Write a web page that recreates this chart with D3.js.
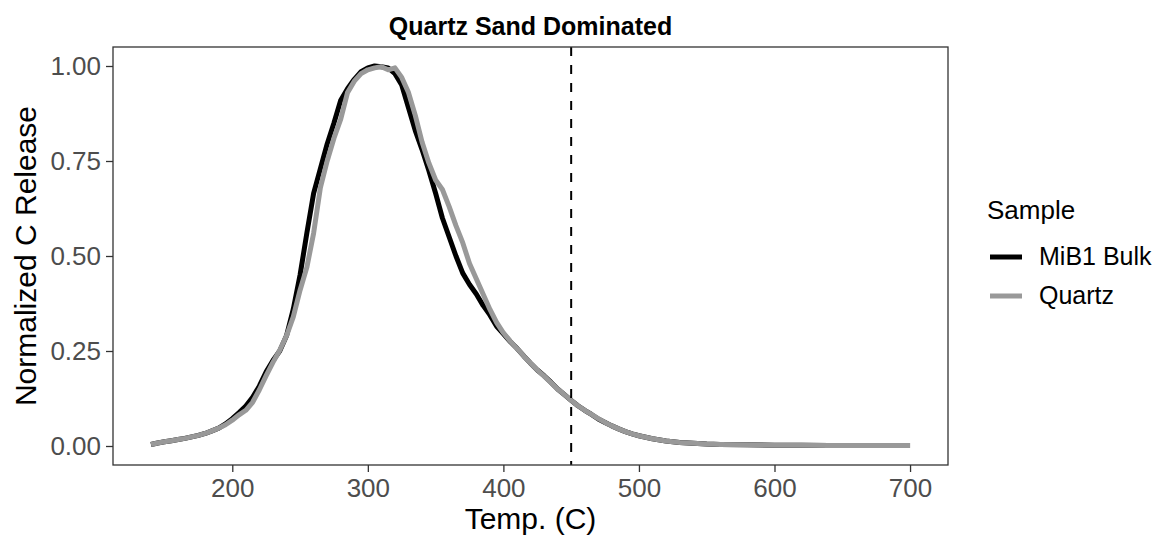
<!DOCTYPE html>
<html><head><meta charset="utf-8">
<script src="https://cdn.jsdelivr.net/npm/d3@7"></script>
<style>body{margin:0;background:#fff;}svg{display:block;font-family:"Liberation Sans",Arial,Helvetica,sans-serif;}</style>
</head><body><svg id="c" width="1159" height="538"></svg>
<script>
const chartTitle = "Quartz Sand Dominated";
const xTitle = "Temp. (C)";
const yTitle = "Normalized C Release";
const legendTitle = "Sample";
const seriesNames = ["MiB1 Bulk", "Quartz"];
const xTicks = [200, 300, 400, 500, 600, 700];
const yTicks = [0, 0.25, 0.5, 0.75, 1];
const cutoffTemp = 450;

const temps = [140,145,150,155,160,165,170,175,180,185,190,195,200,205,210,215,220,225,230,235,240,245,250,255,260,265,270,275,280,285,290,295,300,305,310,315,320,325,330,335,340,345,350,355,360,365,370,375,380,385,390,395,400,405,410,415,420,425,430,435,440,445,450,455,460,465,470,475,480,485,490,495,500,510,520,530,540,550,560,580,600,620,640,660,680,700];

const bulk = [0.004,0.008,0.011,0.014,0.017,0.020,0.024,0.028,0.033,0.040,0.047,0.058,0.072,0.088,0.105,0.128,0.158,0.195,0.225,0.250,0.290,0.360,0.450,0.560,0.665,0.730,0.795,0.850,0.910,0.940,0.965,0.985,0.995,1.000,0.998,0.995,0.980,0.950,0.890,0.830,0.780,0.725,0.665,0.600,0.550,0.500,0.455,0.425,0.400,0.370,0.345,0.315,0.295,0.275,0.257,0.237,0.218,0.200,0.185,0.168,0.150,0.135,0.120,0.106,0.094,0.083,0.071,0.062,0.053,0.045,0.038,0.032,0.027,0.019,0.013,0.009,0.007,0.005,0.004,0.003,0.002,0.002,0.001,0.001,0.001,0.001];

const quartz = [0.004,0.008,0.011,0.014,0.017,0.020,0.024,0.028,0.033,0.040,0.047,0.056,0.068,0.082,0.094,0.115,0.148,0.185,0.220,0.252,0.290,0.340,0.410,0.470,0.560,0.680,0.750,0.810,0.860,0.930,0.960,0.980,0.990,0.995,0.998,0.990,0.995,0.970,0.930,0.870,0.800,0.745,0.700,0.675,0.630,0.580,0.535,0.480,0.440,0.400,0.360,0.325,0.298,0.276,0.257,0.237,0.218,0.200,0.184,0.167,0.150,0.135,0.120,0.106,0.094,0.083,0.072,0.062,0.053,0.045,0.038,0.032,0.027,0.019,0.013,0.009,0.007,0.005,0.004,0.003,0.002,0.002,0.001,0.001,0.001,0.001];

const colors = ["#000000", "#999999"];
const seriesValues = [bulk, quartz];

const svg = d3.select("#c");
const P = {l:113, r:948, t:47, b:465};

const xDom = d3.extent(temps), xPad = (xDom[1]-xDom[0])*0.05;
const x = d3.scaleLinear().domain([xDom[0]-xPad, xDom[1]+xPad]).range([P.l, P.r]);
const y = d3.scaleLinear().domain([-0.05, 1.05]).range([P.b, P.t]);

// title
svg.append("text").attr("x",(P.l+P.r)/2).attr("y",35).attr("text-anchor","middle")
  .attr("font-weight","bold").attr("font-size",25).attr("fill","#000").text(chartTitle);

// curves
const line = d3.line().x(d=>x(d[0])).y(d=>y(d[1]));
seriesValues.forEach((vals,i)=>{
  svg.append("path").datum(temps.map((t,j)=>[t,vals[j]]))
    .attr("d",line).attr("fill","none").attr("stroke",colors[i])
    .attr("stroke-width",5).attr("stroke-linejoin","round").attr("stroke-linecap","butt");
});

// cutoff dashed line
svg.append("line").attr("x1",x(cutoffTemp)).attr("x2",x(cutoffTemp))
  .attr("y1",P.t).attr("y2",P.b).attr("stroke","#000").attr("stroke-width",2)
  .attr("stroke-dasharray","9,9");

// panel border
svg.append("rect").attr("x",P.l).attr("y",P.t).attr("width",P.r-P.l).attr("height",P.b-P.t)
  .attr("fill","none").attr("stroke","#333").attr("stroke-width",1.3);

// axes
const xa = svg.append("g").attr("transform",`translate(0,${P.b})`)
  .call(d3.axisBottom(x).tickValues(xTicks).tickSize(7).tickPadding(6).tickFormat(d3.format("d")));
const ya = svg.append("g").attr("transform",`translate(${P.l},0)`)
  .call(d3.axisLeft(y).tickValues(yTicks).tickSize(7).tickPadding(5).tickFormat(d3.format(".2f")));
[xa,ya].forEach(a=>{
  a.select(".domain").remove();
  a.selectAll(".tick line").attr("stroke","#333").attr("stroke-width",1.3);
  a.selectAll(".tick text").attr("fill","#4d4d4d").attr("font-size",26)
    .attr("font-family","'Liberation Sans',Arial,Helvetica,sans-serif");
});
xa.selectAll(".tick text").attr("dy","0.72em");

// axis titles
svg.append("text").attr("x",(P.l+P.r)/2).attr("y",529).attr("text-anchor","middle")
  .attr("font-size",30).attr("fill","#000").text(xTitle);
svg.append("text").attr("transform",`translate(36,${(P.t+P.b)/2}) rotate(-90)`)
  .attr("text-anchor","middle").attr("font-size",30).attr("fill","#000").text(yTitle);

// legend
const lg = svg.append("g");
lg.append("text").attr("x",987).attr("y",219).attr("font-size",26).attr("fill","#000").text(legendTitle);
seriesNames.forEach((n,i)=>{
  const yy = 257 + i*39;
  lg.append("line").attr("x1",990).attr("x2",1022).attr("y1",yy).attr("y2",yy)
    .attr("stroke",colors[i]).attr("stroke-width",5);
  lg.append("text").attr("x",1039).attr("y",yy+8).attr("font-size",25).attr("fill","#000").text(n);
});
</script></body></html>
